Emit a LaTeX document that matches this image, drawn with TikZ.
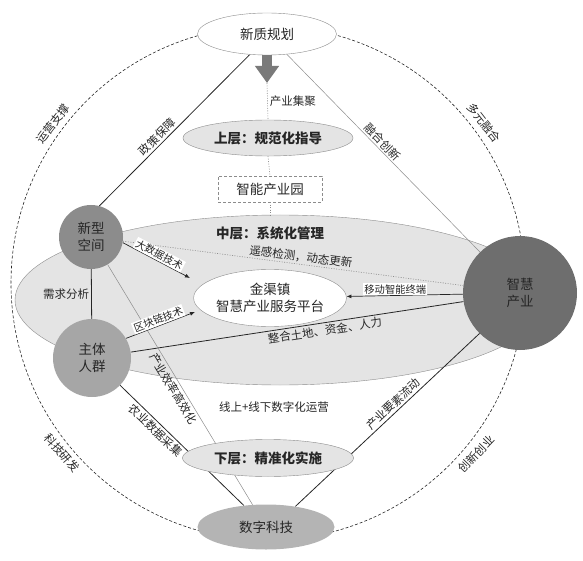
\documentclass[tikz,border=0pt]{standalone}
\usepackage{fontspec}
\setmainfont{Noto Sans CJK SC}
\usepackage{tikz}
\usetikzlibrary{positioning, calc, arrows.meta, shapes.geometric, backgrounds}
\definecolor{Ink}{HTML}{262626}
\definecolor{Edge}{HTML}{8C8C8C}
\definecolor{Layer}{HTML}{E4E4E4}
\definecolor{Space}{HTML}{8C8C8C}
\definecolor{Crowd}{HTML}{A6A6A6}
\definecolor{Industry}{HTML}{6E6E6E}
\definecolor{Tech}{HTML}{B4B4B4}
\definecolor{Push}{HTML}{7A7A7A}
\pgfdeclarelayer{lines}
\pgfsetlayers{background,lines,main}
\tikzset{
    layernode/.style={ellipse, draw=Edge, fill=Layer, text=Ink, inner sep=0pt, font=\bfseries\fontsize{13.5}{15}\selectfont},
    platenode/.style={ellipse, draw=Edge, fill=white, text=Ink, align=center, inner sep=0pt, font=\fontsize{13.5}{16.5}\selectfont},
    ballnode/.style={circle, text=Ink, align=center, inner sep=0pt, font=\fontsize{13.5}{16.5}\selectfont},
    tag/.style={text=Ink, inner sep=2pt, font=\fontsize{11.5}{13}\selectfont},
    boxtag/.style={fill=white, text=Ink, inner sep=1.2pt, font=\fontsize{10.3}{12}\selectfont},
    link/.style={Ink, line width=0.8pt},
    faint/.style={Edge, line width=0.5pt},
    arrow/.style={-{Latex[length=5pt,width=4pt]}, Ink, line width=0.7pt},
    dotline/.style={Edge, line width=0.6pt, dash pattern=on 1pt off 1.5pt},
    ring/.style={Ink, line width=0.6pt, dash pattern=on 3pt off 2pt},
    bigarrow/.style={-{Triangle[length=17pt,width=23pt]}, Push, line width=10pt},
}

\begin{document}
\begin{tikzpicture}[x=1pt, y=-1pt]
    \useasboundingbox (0,0) rectangle (583,561);

    % anello esterno e fascia centrale
    \begin{pgfonlayer}{background}
        \draw[ring] (268,283) circle (257pt);
        \node[ellipse, draw=Edge, fill=Layer, minimum width=530pt, minimum height=170pt] (zhong) at (280,300) {};
    \end{pgfonlayer}
    \node[tag, rotate=53] (yunying) at (53,124) {运营支撑};
    \node[tag, rotate=-52] (duoyuan) at (484,123) {多元融合};
    \node[tag, rotate=-49] (keji) at (62,453) {科技研发};
    \node[tag, rotate=46] (chuangxin) at (476,454) {创新创业};

    % livelli
    \node[platenode, minimum width=139pt, minimum height=42pt] (xinzhi) at (267,34) {新质规划};
    \node[layernode, minimum width=170pt, minimum height=36pt] (shang) at (268,138) {上层：规范化指导};
    \node[draw=Edge, densely dashed, text=Ink, minimum width=104pt, minimum height=26pt, font=\fontsize{13.5}{15}\selectfont] (yuan) at (270,189) {智能产业园};
    \node[text=Ink, font=\bfseries\fontsize{13.5}{15}\selectfont] (zhongt) at (270,233) {中层：系统化管理};
    \node[platenode, minimum width=146pt, minimum height=57pt] (pingtai) at (270,298) {金渠镇\\智慧产业服务平台};
    \node[tag] (xianshang) at (274,407) {线上+线下数字化运营};
    \node[layernode, minimum width=171pt, minimum height=37pt] (xia) at (268,458) {下层：精准化实施};
    \node[ellipse, fill=Tech, text=Ink, minimum width=137pt, minimum height=45pt, font=\fontsize{13.5}{15}\selectfont] (shuzi) at (266,527) {数字科技};

    % attori
    \node[ballnode, fill=Space, minimum size=64pt] (xinxing) at (91,237) {新型\\空间};
    \node[ballnode, fill=Crowd, minimum size=78pt] (zhuti) at (92,358) {主体\\人群};
    \node[ballnode, fill=Industry, minimum size=114pt] (zhihui) at (520,293) {智慧\\产业};

    % asse verticale
    \coordinate (jj) at (267,83);
    \draw[bigarrow] (xinzhi.south) -- (jj);
    \draw[dotline] (jj) -- node[tag, right] {产业集聚} (shang.north);
    \draw[dotline] (shang.south) -- (yuan.north);
    \draw[dotline] (yuan.south) -- (yuan.south |- zhong.north);

    % collegamenti
    \coordinate (dsj) at (190,278);
    \coordinate (qkl) at (195,312);
    \begin{pgfonlayer}{lines}
        \draw[link] (xinxing.75) -- node[tag, sloped, above, pos=0.42] {政策保障} (xinzhi.-130);
        \draw[faint] (xinzhi) -- node[tag, sloped, above, pos=0.47] {融合创新} (zhihui);
        \draw[link] (xinxing) -- node[tag, left] {需求分析} (zhuti);
        \draw[dotline] (xinxing) -- node[tag, sloped, above, pos=0.52] {遥感检测，动态更新} (zhihui);
        \draw[link] (zhuti) -- node[tag, sloped, below, pos=0.58] {整合土地、资金、人力} (zhihui);
        \draw[faint] (xinxing) -- node[tag, sloped, below, pos=0.5] {产业效率高效化} (shuzi);
        \draw[link] (zhuti) -- node[tag, sloped, below, pos=0.33] {农业数据采集} (shuzi);
        \draw[link] (shuzi.35) -- node[tag, sloped, above, pos=0.56] {产业要素流动} (zhihui.-135);
        \draw[arrow] (xinxing.-10) -- node[boxtag, sloped, above] {大数据技术} (dsj);
        \draw[arrow] (zhuti.30) -- node[boxtag, sloped, above] {区块链技术} (qkl);
        \draw[arrow] (zhihui) -- node[boxtag, above, pos=0.58] {移动智能终端} (pingtai);
    \end{pgfonlayer}
\end{tikzpicture}
\end{document}
